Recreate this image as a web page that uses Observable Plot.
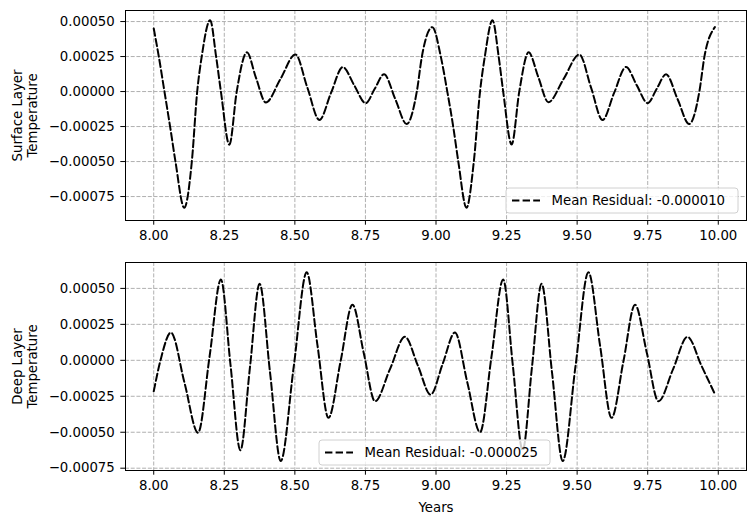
<!DOCTYPE html>
<html>
<head>
<meta charset="utf-8">
<script src="https://cdn.jsdelivr.net/npm/d3@7"></script>
<script src="https://cdn.jsdelivr.net/npm/@observablehq/plot@0.6"></script>
<style>
  html, body { margin: 0; padding: 0; background: white; }
  #chart svg { display: block; }
</style>
</head>
<body>
<div id="chart"></div>
<script>
// ---- Data ----
const xTicks = [8.0, 8.25, 8.5, 8.75, 9.0, 9.25, 9.5, 9.75, 10.0];
const yTicks = [-0.00075, -0.0005, -0.00025, 0, 0.00025, 0.0005];

const surfaceYears = [
  8.000, 8.018, 8.038, 8.058, 8.077, 8.108, 8.135, 8.154, 8.170, 8.200,
  8.221, 8.238, 8.268, 8.294, 8.330, 8.362, 8.397, 8.449, 8.502, 8.544,
  8.587, 8.628, 8.670, 8.710, 8.751, 8.783, 8.816, 8.856, 8.896, 8.932,
  8.950, 8.987, 9.017, 9.040, 9.061, 9.079, 9.108, 9.134, 9.156, 9.173,
  9.200, 9.222, 9.238, 9.268, 9.295, 9.328, 9.363, 9.398, 9.452, 9.508,
  9.549, 9.590, 9.631, 9.673, 9.711, 9.750, 9.782, 9.815, 9.856, 9.897,
  9.933, 9.951, 9.988
];
const surfaceValues = [
  0.00045, 0.00025, 0.0, -0.00025, -0.0005, -0.00083, -0.0005, 0.0, 0.00025, 0.00051,
  0.00025, 0.0, -0.00038, 0.0, 0.00028, 0.0001, -0.000078, 0.00009, 0.000265, 0.00003,
  -0.000203, -0.00001, 0.000175, 0.000046, -0.000083, 0.00002, 0.000123, -0.000055, -0.000232, 0.0,
  0.00025, 0.00046, 0.00025, 0.0, -0.00025, -0.0005, -0.00083, -0.0005, 0.0, 0.00025,
  0.00051, 0.00025, 0.0, -0.000378, 0.0, 0.00028, 0.0001, -0.000076, 0.00009, 0.000265,
  0.00003, -0.000203, -0.00001, 0.000175, 0.000046, -0.000083, 0.00002, 0.000123, -0.000055, -0.000232,
  0.0, 0.00025, 0.00046
];

const deepYears = [
  8.000, 8.024, 8.061, 8.109, 8.157, 8.198, 8.238, 8.272, 8.307, 8.341,
  8.375, 8.412, 8.450, 8.496, 8.542, 8.580, 8.619, 8.662, 8.704, 8.744,
  8.784, 8.837, 8.890, 8.936, 8.981, 9.024, 9.067, 9.111, 9.156, 9.197,
  9.238, 9.272, 9.307, 9.340, 9.374, 9.411, 9.449, 9.494, 9.540, 9.581,
  9.622, 9.664, 9.705, 9.747, 9.788, 9.840, 9.891, 9.940, 9.988
];
const deepValues = [
  -0.000216, 0.0, 0.000193, -0.000156, -0.000504, 0.000029, 0.000562, -0.000032, -0.000626, -0.000047,
  0.000532, -0.000084, -0.0007, -0.000044, 0.000612, 0.000106, -0.0004, -0.000007, 0.000387, 0.000051,
  -0.000285, -0.000061, 0.000163, -0.000038, -0.000239, -0.000023, 0.000193, -0.000154, -0.0005, 0.000031,
  0.000562, -0.000032, -0.000626, -0.000047, 0.000532, -0.000084, -0.0007, -0.000044, 0.000612, 0.000106,
  -0.0004, -0.000007, 0.000387, 0.000051, -0.000285, -0.000061, 0.000163, -0.000036, -0.000235
];

const surfaceLabel = "Mean Residual: -0.000010";
const deepLabel = "Mean Residual: -0.000025";

// ---- Build tables ----
const surface = surfaceYears.map((t, i) => ({t, v: surfaceValues[i]}));
const deep = deepYears.map((t, i) => ({t, v: deepValues[i]}));

const FONT = "DejaVu Sans, sans-serif";
const FS = 13.3;
const gridStyle = {stroke: "#b0b0b0", strokeOpacity: 1, strokeWidth: 1, strokeDasharray: "4,1.7"};
const lineStyle = {stroke: "black", strokeWidth: 2, strokeDasharray: "7.4,3.2", curve: "monotone-x"};

function panel({data, height, marginTop, marginBottom, yDomain, ylabel, xlabel}) {
  const marks = [
    Plot.gridX(xTicks, gridStyle),
    Plot.gridY(yTicks, gridStyle),
    Plot.line(data, {x: "t", y: "v", ...lineStyle}),
    Plot.frame({stroke: "black", strokeWidth: 1}),
    Plot.axisX(xTicks, {tickFormat: d3.format(".2f"), tickSize: 4.7, tickPadding: 5, label: null, fontSize: FS}),
    Plot.axisY(yTicks, {tickFormat: d3.format(".5f"), tickSize: 4.7, tickPadding: 6, label: null, fontSize: FS}),
    Plot.text([ylabel], {text: d => d, frameAnchor: "left", dx: -101, rotate: -90,
      textAnchor: "middle", lineAnchor: "middle", lineHeight: 1.15, fontSize: FS, fill: "black"})
  ];
  if (xlabel) {
    marks.push(Plot.text([xlabel], {text: d => d, frameAnchor: "bottom", dy: 37,
      lineAnchor: "middle", fontSize: FS, fill: "black"}));
  }
  return Plot.plot({
    width: 754, height, marginTop, marginBottom, marginLeft: 125, marginRight: 8,
    x: {domain: [7.9, 10.1]},
    y: {domain: yDomain},
    style: {fontFamily: FONT, fontSize: FS + "px", color: "black", background: "white", overflow: "visible"},
    marks
  });
}

function addLegend(svg, x0, y0, w, h, label) {
  const g = d3.select(svg).append("g");
  g.append("rect").attr("x", x0).attr("y", y0).attr("width", w).attr("height", h)
    .attr("rx", 3).attr("fill", "white").attr("fill-opacity", 0.8)
    .attr("stroke", "#d0d0d0").attr("stroke-width", 1);
  const cy = y0 + h / 2;
  g.append("line").attr("x1", x0 + 6).attr("x2", x0 + 34).attr("y1", cy).attr("y2", cy)
    .attr("stroke", "black").attr("stroke-width", 2).attr("stroke-dasharray", "7.4,3.2");
  g.append("text").attr("x", x0 + 45.5).attr("y", cy).attr("dy", "0.35em")
    .attr("text-anchor", "start")
    .attr("font-family", FONT).attr("font-size", FS).attr("fill", "black").text(label);
}

const topPanel = panel({data: surface, height: 250, marginTop: 10, marginBottom: 30,
  yDomain: [-0.000921, 0.000579], ylabel: "Surface Layer\nTemperature"});
addLegend(topPanel, 506, 188, 232, 25, surfaceLabel);

const bottomPanel = panel({data: deep, height: 275, marginTop: 12, marginBottom: 55,
  yDomain: [-0.000766, 0.00068], ylabel: "Deep Layer\nTemperature", xlabel: "Years"});
addLegend(bottomPanel, 319, 190, 231, 25, deepLabel);

document.getElementById("chart").append(topPanel, bottomPanel);
</script>
</body>
</html>
